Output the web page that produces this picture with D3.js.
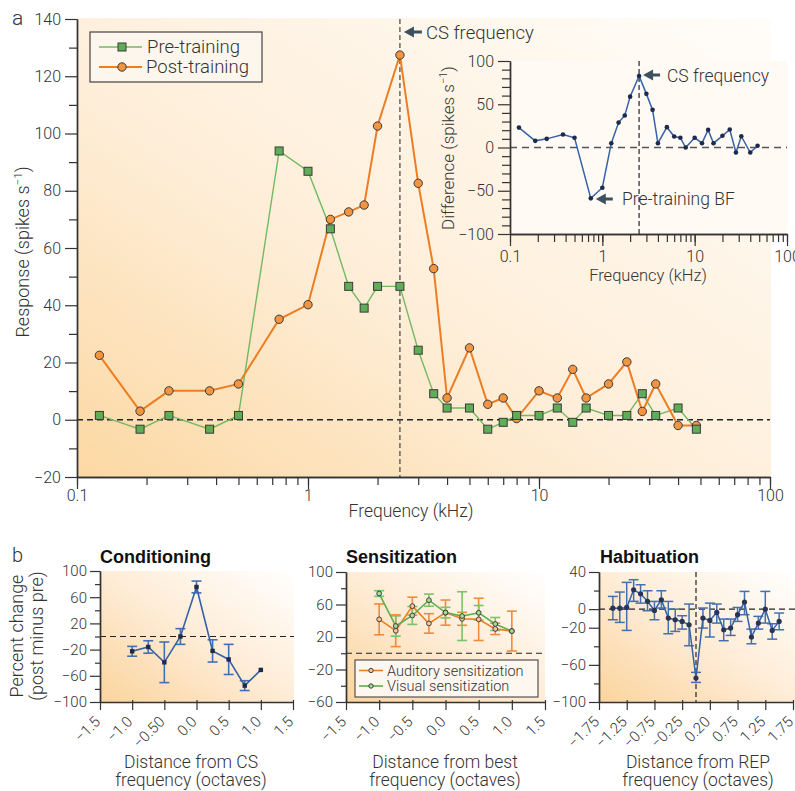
<!DOCTYPE html>
<html>
<head>
<meta charset="utf-8">
<script src="https://cdn.jsdelivr.net/npm/d3@7"></script>
<style>
  body { margin: 0; background: #fff; }
  svg text { font-family: Roboto, "Liberation Sans", Arial, sans-serif; font-weight: 300; fill: #333; }
  svg text.bold { font-family: "Liberation Sans", Arial, sans-serif; font-weight: 700; fill: #111; }
</style>
</head>
<body>
<script>
// ---- panel a data (kHz, spikes/s) ----
const freqs = [0.125, 0.1875, 0.25, 0.375, 0.5, 0.75, 1, 1.25, 1.5, 1.75, 2, 2.5, 3, 3.5, 4, 5, 6, 7, 8, 10, 12, 14, 16, 20, 24, 28, 32, 40, 48];
const preTraining = [1.5, -3.3, 1.5, -3.3, 1.5, 93.9, 86.8, 66.7, 46.6, 39, 46.6, 46.6, 24.3, 9.1, 4.1, 4.1, -3.3, -0.9, 1.5, 1.5, 4.1, -0.9, 4.1, 1.5, 1.5, 9.1, 1.5, 4.1, -3.3];
const postTraining = [22.5, 3.0, 10.1, 10.1, 12.5, 35.1, 40.2, 70.0, 72.6, 75.0, 102.6, 127.4, 82.6, 52.8, 7.6, 25.1, 5.4, 7.6, 0.4, 10.1, 7.6, 17.6, 7.6, 12.5, 20.2, 2.9, 12.5, -2.0, -2.0];
const difference = [23, 7.7, 10, 15, 11.2, -58.8, -46.5, 5, 28.8, 37, 58.8, 82.7, 62, 43.5, 5, 23.5, 12.7, 11.2, 0, 11.2, 5, 20.4, 5, 13.5, 20.8, -5.8, 13, -5.8, 2];
const csFrequency = 2.5;
const preTrainingBF = 0.75;

const mainYMajor = [-20, 0, 20, 40, 60, 80, 100, 120, 140];
const mainYMinor = [-10, 10, 30, 50, 70, 90, 110, 130];
const logMajor = [0.1, 1, 10, 100];
const insetYMajor = [-100, -50, 0, 50, 100];
const insetYMinor = [-90, -80, -70, -60, -40, -30, -20, -10, 10, 20, 30, 40, 60, 70, 80, 90];

// ---- panel b data (octaves, percent change) ----
const condOctaves = [-1, -0.75, -0.5, -0.25, 0, 0.25, 0.5, 0.75, 1];
const condChange = [-22.6, -16, -39.4, 0, 75.6, -22, -35, -75, -51];
const condErr = [7.5, 9.5, 31, 12, 9, 17, 23, 7.5, 0];
const condXTicks = [-1.5, -1.0, -0.5, 0, 0.5, 1.0, 1.5];
const condXLabels = ["−1.5", "−1.0", "−0.50", "0.0", "0.5", "1.0", "1.5"];
const condYMajor = [-100, -60, -20, 20, 60, 100];
const condYMinor = [-80, -40, 0, 40, 80];

const sensOctaves = [-1, -0.75, -0.5, -0.25, 0, 0.25, 0.5, 0.75, 1];
const audChange = [41.7, 27.7, 58, 36.7, 50, 42.4, 41.7, 30, 27.3];
const audErr = [19, 19.5, 11, 12, 15.5, 8, 26, 7, 24.5];
const visChange = [73.5, 33.5, 46.5, 65.3, 50, 45.7, 49.8, 36, 27.3];
const visErr = [3.5, 12.5, 11, 7.5, 6.5, 30, 9, 8, 0];
const sensXTicks = [-1.5, -1.0, -0.5, 0, 0.5, 1.0, 1.5];
const sensXLabels = ["−1.5", "−1.0", "−0.5", "0.0", "0.5", "1.0", "1.5"];
const sensYMajor = [-60, -20, 20, 60, 100];
const sensYMinor = [-40, 0, 40, 80];

const habOctaves = [-1.5, -1.375, -1.25, -1.125, -1, -0.875, -0.75, -0.625, -0.5, -0.375, -0.25, -0.125, 0,
                    0.125, 0.25, 0.375, 0.5, 0.625, 0.75, 0.875, 1, 1.125, 1.25, 1.375, 1.5];
const habChange = [1, 1, 1.8, 20.9, 16.6, 8.4, -1.4, 10.1, -9.6, -11.4, -13.2, -16.8, -74.2,
                   -9.6, -12.1, -3.5, -22.2, -20.4, -6, 7.7, -30, -15, 0, -22.9, -13.2];
const habHigh = [13.7, 18.4, 28.8, 31.7, 26.3, 19.8, 8.3, 19.8, 8.3, 0, -7.1, 5.5, -68.1,
                 1.2, 6.5, 5.5, -10.7, -10.7, 1.8, 19.1, -21.5, -7.8, 19.1, -15.7, -4.2];
const habLow = [-11.4, -14.3, -22.9, 8.4, 6.5, -1.7, -11.4, 1.2, -26.5, -24, -21.5, -39.4, -78.9,
                -20.4, -30, -15, -34, -28.3, -13.2, -6, -37.3, -21.5, -15, -32.3, -22.2];
const habXTicks = [-1.75, -1.25, -0.75, -0.25, 0.25, 0.75, 1.25, 1.75];
const habXLabels = ["−1.75", "−1.25", "−0.75", "−0.25", "0.20", "0.75", "1.25", "1.75"];
const habYMajor = [-100, -60, -20, 0, 40];
const habYMinor = [-80, -40, 20];

const green = "#74b862", greenFill = "#5fad57";
const orange = "#ee7d22", orangeFill = "#f29440";
const blue = "#3562a8", navy = "#1f2a48";
const ink = "#333";

const svg = d3.select("body").append("svg").attr("width", 795).attr("height", 791);
const defs = svg.append("defs");

function grad(id, stops) {
  const g = defs.append("linearGradient").attr("id", id)
    .attr("x1", 0).attr("y1", 1).attr("x2", 1).attr("y2", 0);
  stops.forEach(s => g.append("stop").attr("offset", s[0]).attr("stop-color", s[1]));
}
grad("bgA", [[0, "#fcd8a3"], [0.42, "#feeed8"], [1, "#fffdfa"]]);
grad("bgB", [[0, "#fbd49d"], [0.5, "#feecd6"], [1, "#ffffff"]]);

function panelBg(x0, x1, y0, y1, r, fill) {
  svg.append("path")
    .attr("d", `M${x0},${y1}L${x0},${y0}L${x1 - r},${y0}Q${x1},${y0} ${x1},${y0 + r}L${x1},${y1}Z`)
    .attr("fill", fill);
}

function styleAxis(g, fs) {
  g.selectAll(".domain").attr("stroke", ink).attr("stroke-width", 1.4);
  g.selectAll(".tick line").attr("stroke", ink).attr("stroke-width", 1.2);
  g.selectAll(".tick text").attr("fill", ink).style("font-size", fs + "px");
  return g;
}

function leftAxis(scale, x, major, minor, majLen, minLen, pad, fs, fmt) {
  styleAxis(svg.append("g").attr("transform", `translate(${x},0)`)
    .call(d3.axisLeft(scale).tickValues(minor).tickSize(minLen).tickSizeOuter(0).tickFormat("")), fs);
  styleAxis(svg.append("g").attr("transform", `translate(${x},0)`)
    .call(d3.axisLeft(scale).tickValues(major).tickSize(majLen).tickSizeOuter(0).tickPadding(pad)
      .tickFormat(fmt || d3.format(""))), fs);
}

function logAxis(scale, y, pad, fs) {
  styleAxis(svg.append("g").attr("transform", `translate(0,${y})`)
    .call(d3.axisBottom(scale).tickValues(scale.ticks()).tickSize(8).tickSizeOuter(0).tickFormat("")), fs);
  styleAxis(svg.append("g").attr("transform", `translate(0,${y})`)
    .call(d3.axisBottom(scale).tickValues(logMajor).tickSize(12).tickSizeOuter(0).tickPadding(pad)
      .tickFormat(d => String(d))), fs);
}

function hLine(x1, x2, y, dash, color, w) {
  svg.append("line").attr("x1", x1).attr("x2", x2).attr("y1", y).attr("y2", y)
    .attr("stroke", color || "#222").attr("stroke-width", w || 1.3).attr("stroke-dasharray", dash || "6,4");
}
function vLine(x, y1, y2, dash, color, w) {
  svg.append("line").attr("x1", x).attr("x2", x).attr("y1", y1).attr("y2", y2)
    .attr("stroke", color || "#222").attr("stroke-width", w || 1.2).attr("stroke-dasharray", dash || "5,3");
}

function arrow(xTip, y, len) {
  const c = "#3d5060";
  svg.append("line").attr("x1", xTip + 6).attr("x2", xTip + len).attr("y1", y).attr("y2", y)
    .attr("stroke", c).attr("stroke-width", 3);
  svg.append("path").attr("d", `M${xTip},${y}L${xTip + 10},${y - 5.5}L${xTip + 10},${y + 5.5}Z`).attr("fill", c);
}

function label(x, y, txt, fs, opts) {
  const t = svg.append("text").attr("x", x).attr("y", y).text(txt).style("font-size", fs + "px");
  if (opts && opts.anchor) t.attr("text-anchor", opts.anchor);
  if (opts && opts.cls) t.attr("class", opts.cls);
  return t;
}

function rotLabel(x, y, parts, fs) {
  const t = svg.append("text").attr("transform", `translate(${x},${y}) rotate(-90)`)
    .attr("text-anchor", "middle").style("font-size", fs + "px");
  t.append("tspan").text(parts[0]);
  if (parts[1]) {
    t.append("tspan").attr("dy", -7).style("font-size", (fs * 0.65) + "px").text(parts[1]);
    t.append("tspan").attr("dy", 7).text(")");
  }
  return t;
}

// ================= panel a =================
const xA = d3.scaleLog().domain([0.1, 100]).range([77, 770]);
const yA = d3.scaleLinear().domain([-20, 140]).range([477, 19]);
panelBg(77, 771, 18, 477, 6, "url(#bgA)");

hLine(xA(0.1), xA(100), yA(0), "6,4", "#222", 1.3);
vLine(xA(csFrequency), yA(140), yA(-20), "5,3", "#444", 1.2);

leftAxis(yA, 77, mainYMajor, mainYMinor, 12, 8, 4, 16);
logAxis(xA, 477, 1, 16);

const lineA = d3.line().x(d => xA(d[0])).y(d => yA(d[1]));
const preData = d3.zip(freqs, preTraining);
const postData = d3.zip(freqs, postTraining);

svg.append("path").datum(preData).attr("d", lineA).attr("fill", "none").attr("stroke", green).attr("stroke-width", 1.4);
svg.append("path").datum(postData).attr("d", lineA).attr("fill", "none").attr("stroke", orange).attr("stroke-width", 2);

svg.selectAll("circle.post").data(postData).enter().append("circle").attr("class", "post")
  .attr("cx", d => xA(d[0])).attr("cy", d => yA(d[1])).attr("r", 4.2)
  .attr("fill", orangeFill).attr("stroke", "#3a3a3a").attr("stroke-width", 1);
svg.selectAll("rect.pre").data(preData).enter().append("rect").attr("class", "pre")
  .attr("x", d => xA(d[0]) - 4).attr("y", d => yA(d[1]) - 4).attr("width", 8).attr("height", 8)
  .attr("fill", greenFill).attr("stroke", "#3a3a3a").attr("stroke-width", 1);

// legend
svg.append("rect").attr("x", 90).attr("y", 32).attr("width", 172).attr("height", 50)
  .attr("fill", "#fdf6ec").attr("stroke", "#444").attr("stroke-width", 1.2);
svg.append("line").attr("x1", 99).attr("x2", 142).attr("y1", 47).attr("y2", 47).attr("stroke", green).attr("stroke-width", 1.4);
svg.append("rect").attr("x", 118).attr("y", 43).attr("width", 8).attr("height", 8)
  .attr("fill", greenFill).attr("stroke", "#3a3a3a");
label(147, 53, "Pre-training", 18.5);
svg.append("line").attr("x1", 99).attr("x2", 142).attr("y1", 67).attr("y2", 67).attr("stroke", orange).attr("stroke-width", 2);
svg.append("circle").attr("cx", 122).attr("cy", 67).attr("r", 4.2).attr("fill", orangeFill).attr("stroke", "#3a3a3a");
label(146, 73, "Post-training", 18.5);

arrow(xA(csFrequency) + 4, 32, 18);
label(426, 39, "CS frequency", 18.5);

label(411, 517, "Frequency (kHz)", 17.5, { anchor: "middle" });
rotLabel(29, 252, ["Response (spikes s", "−1"], 18);
label(12, 25, "a", 21);

// ---- inset ----
const xB = d3.scaleLog().domain([0.1, 100]).range([510, 787]);
const yB = d3.scaleLinear().domain([-100, 100]).range([234, 61]);
svg.append("rect").attr("x", 510).attr("y", 61).attr("width", 277).attr("height", 173).attr("fill", "#fffaf4");

hLine(xB(0.1), xB(100), yB(0), "7,5", "#555", 1.6);
vLine(xB(csFrequency), yB(100), yB(-100), "5,3", "#222", 1.2);
leftAxis(yB, 510, insetYMajor, insetYMinor, 12, 8, 4, 16);
logAxis(xB, 234, 5, 16);

const diffData = d3.zip(freqs, difference);
svg.append("path").datum(diffData)
  .attr("d", d3.line().x(d => xB(d[0])).y(d => yB(d[1])))
  .attr("fill", "none").attr("stroke", blue).attr("stroke-width", 1.5);
svg.selectAll("circle.diff").data(diffData).enter().append("circle").attr("class", "diff")
  .attr("cx", d => xB(d[0])).attr("cy", d => yB(d[1])).attr("r", 2.3).attr("fill", navy);

arrow(xB(csFrequency) + 4, 75, 17);
label(667, 82, "CS frequency", 17.5);
arrow(xB(preTrainingBF) + 5, 199, 17);
label(622, 205, "Pre-training BF", 17.5);
label(648, 281, "Frequency (kHz)", 16.5, { anchor: "middle" });
rotLabel(454, 148, ["Difference (spikes s", "−1"], 17);

// ================= panel b =================
function bottomXAxis(scale, y, ticks, labels) {
  const g = svg.append("g").attr("transform", `translate(0,${y})`)
    .call(d3.axisBottom(scale).tickValues(ticks).tickSize(8).tickSizeOuter(0)
      .tickFormat((d, i) => labels[i]));
  styleAxis(g, 15);
  g.selectAll(".tick line").attr("y1", -2);
  g.selectAll(".tick text")
    .attr("y", 0).attr("dy", "0.35em").attr("text-anchor", "end")
    .attr("transform", "translate(-3,17) rotate(-45)");
}

function errorBars(xs, ys, lo, hi, sx, sy, color, w) {
  xs.forEach((x, i) => {
    if (hi[i] === lo[i]) return;
    const cx = sx(x);
    svg.append("line").attr("x1", cx).attr("x2", cx).attr("y1", sy(hi[i])).attr("y2", sy(lo[i]))
      .attr("stroke", color).attr("stroke-width", w);
    [hi[i], lo[i]].forEach(v => svg.append("line").attr("x1", cx - 5).attr("x2", cx + 5)
      .attr("y1", sy(v)).attr("y2", sy(v)).attr("stroke", color).attr("stroke-width", w));
  });
}

function series(xs, ys, sx, sy, color, w) {
  svg.append("path").datum(d3.zip(xs, ys))
    .attr("d", d3.line().x(d => sx(d[0])).y(d => sy(d[1])))
    .attr("fill", "none").attr("stroke", color).attr("stroke-width", w);
}

// Conditioning
const xC = d3.scaleLinear().domain([-1.5, 1.5]).range([100, 293]);
const yC = d3.scaleLinear().domain([-100, 100]).range([702, 571]);
panelBg(100, 294, 571, 702, 8, "url(#bgB)");
hLine(100, 294, yC(0), "6,4", "#222", 1.2);
leftAxis(yC, 100, condYMajor, condYMinor, 10, 5, 3, 15);
bottomXAxis(xC, 702, condXTicks, condXLabels);
errorBars(condOctaves, condChange,
  condChange.map((v, i) => v - condErr[i]), condChange.map((v, i) => v + condErr[i]), xC, yC, "#4470b0", 1.6);
series(condOctaves, condChange, xC, yC, blue, 1.6);
svg.selectAll("rect.cond").data(d3.zip(condOctaves, condChange)).enter().append("rect").attr("class", "cond")
  .attr("x", d => xC(d[0]) - 2.2).attr("y", d => yC(d[1]) - 2.2).attr("width", 4.4).attr("height", 4.4).attr("fill", navy);
label(100, 563, "Conditioning", 18, { cls: "bold" });
label(191, 768, "Distance from CS", 17.5, { anchor: "middle" });
label(191, 786, "frequency (octaves)", 17.5, { anchor: "middle" });
rotLabel(23, 636, ["Percent change"], 18);
rotLabel(43, 636, ["(post minus pre)"], 18);
label(12, 562, "b", 20);

// Sensitization
const xS = d3.scaleLinear().domain([-1.5, 1.5]).range([346, 545]);
const yS = d3.scaleLinear().domain([-60, 100]).range([702, 572]);
panelBg(346, 545, 572, 702, 8, "url(#bgB)");
hLine(346, 545, yS(0), "6,4", "#222", 1.2);
leftAxis(yS, 346, sensYMajor, sensYMinor, 10, 5, 3, 15);
bottomXAxis(xS, 702, sensXTicks, sensXLabels);
errorBars(sensOctaves, audChange,
  audChange.map((v, i) => v - audErr[i]), audChange.map((v, i) => v + audErr[i]), xS, yS, "#f08a3c", 1.6);
errorBars(sensOctaves, visChange,
  visChange.map((v, i) => v - visErr[i]), visChange.map((v, i) => v + visErr[i]), xS, yS, "#7cc26a", 1.6);
series(sensOctaves, audChange, xS, yS, orange, 1.6);
series(sensOctaves, visChange, xS, yS, "#5cae4e", 1.6);
[[audChange, "#f6c49a"], [visChange, "#a8d89c"]].forEach(([vals, fill]) => {
  svg.selectAll(null).data(d3.zip(sensOctaves, vals)).enter().append("circle")
    .attr("cx", d => xS(d[0])).attr("cy", d => yS(d[1])).attr("r", 2.4)
    .attr("fill", fill).attr("stroke", "#333").attr("stroke-width", 0.9);
});
svg.append("rect").attr("x", 355).attr("y", 660).attr("width", 183).attr("height", 37)
  .attr("fill", "#fdf7ef").attr("stroke", "#444").attr("stroke-width", 1.1);
[["Auditory sensitization", orange, "#f6c49a", 670.5], ["Visual sensitization", "#5cae4e", "#a8d89c", 686]].forEach(([t, c, f, y]) => {
  svg.append("line").attr("x1", 359).attr("x2", 383).attr("y1", y).attr("y2", y).attr("stroke", c).attr("stroke-width", 1.6);
  svg.append("circle").attr("cx", 371).attr("cy", y).attr("r", 2.2).attr("fill", f).attr("stroke", "#333").attr("stroke-width", 0.9);
  label(387, y + 5, t, 14.5);
});
label(346, 563, "Sensitization", 18, { cls: "bold" });
label(445, 768, "Distance from best", 17.5, { anchor: "middle" });
label(445, 786, "frequency (octaves)", 17.5, { anchor: "middle" });

// Habituation
const xH = d3.scaleLinear().domain([-1.75, 1.75]).range([599, 793]);
const yH = d3.scaleLinear().domain([-100, 40]).range([702, 572]);
panelBg(599, 795, 572, 702, 8, "url(#bgB)");
hLine(599, 795, yH(0), "6,4", "#222", 1.2);
vLine(xH(0), yH(40), yH(-100), "5,3", "#222", 1.2);
leftAxis(yH, 599, habYMajor, habYMinor, 10, 5, 3, 15);
bottomXAxis(xH, 702, habXTicks, habXLabels);
errorBars(habOctaves, habChange, habLow, habHigh, xH, yH, "#4470b0", 1.5);
series(habOctaves, habChange, xH, yH, blue, 1.5);
svg.selectAll("circle.hab").data(d3.zip(habOctaves, habChange)).enter().append("circle").attr("class", "hab")
  .attr("cx", d => xH(d[0])).attr("cy", d => yH(d[1])).attr("r", 2.6).attr("fill", "#2a3450");
label(600, 563, "Habituation", 18, { cls: "bold" });
label(698, 768, "Distance from REP", 17.5, { anchor: "middle" });
label(698, 786, "frequency (octaves)", 17.5, { anchor: "middle" });
</script>
</body>
</html>
